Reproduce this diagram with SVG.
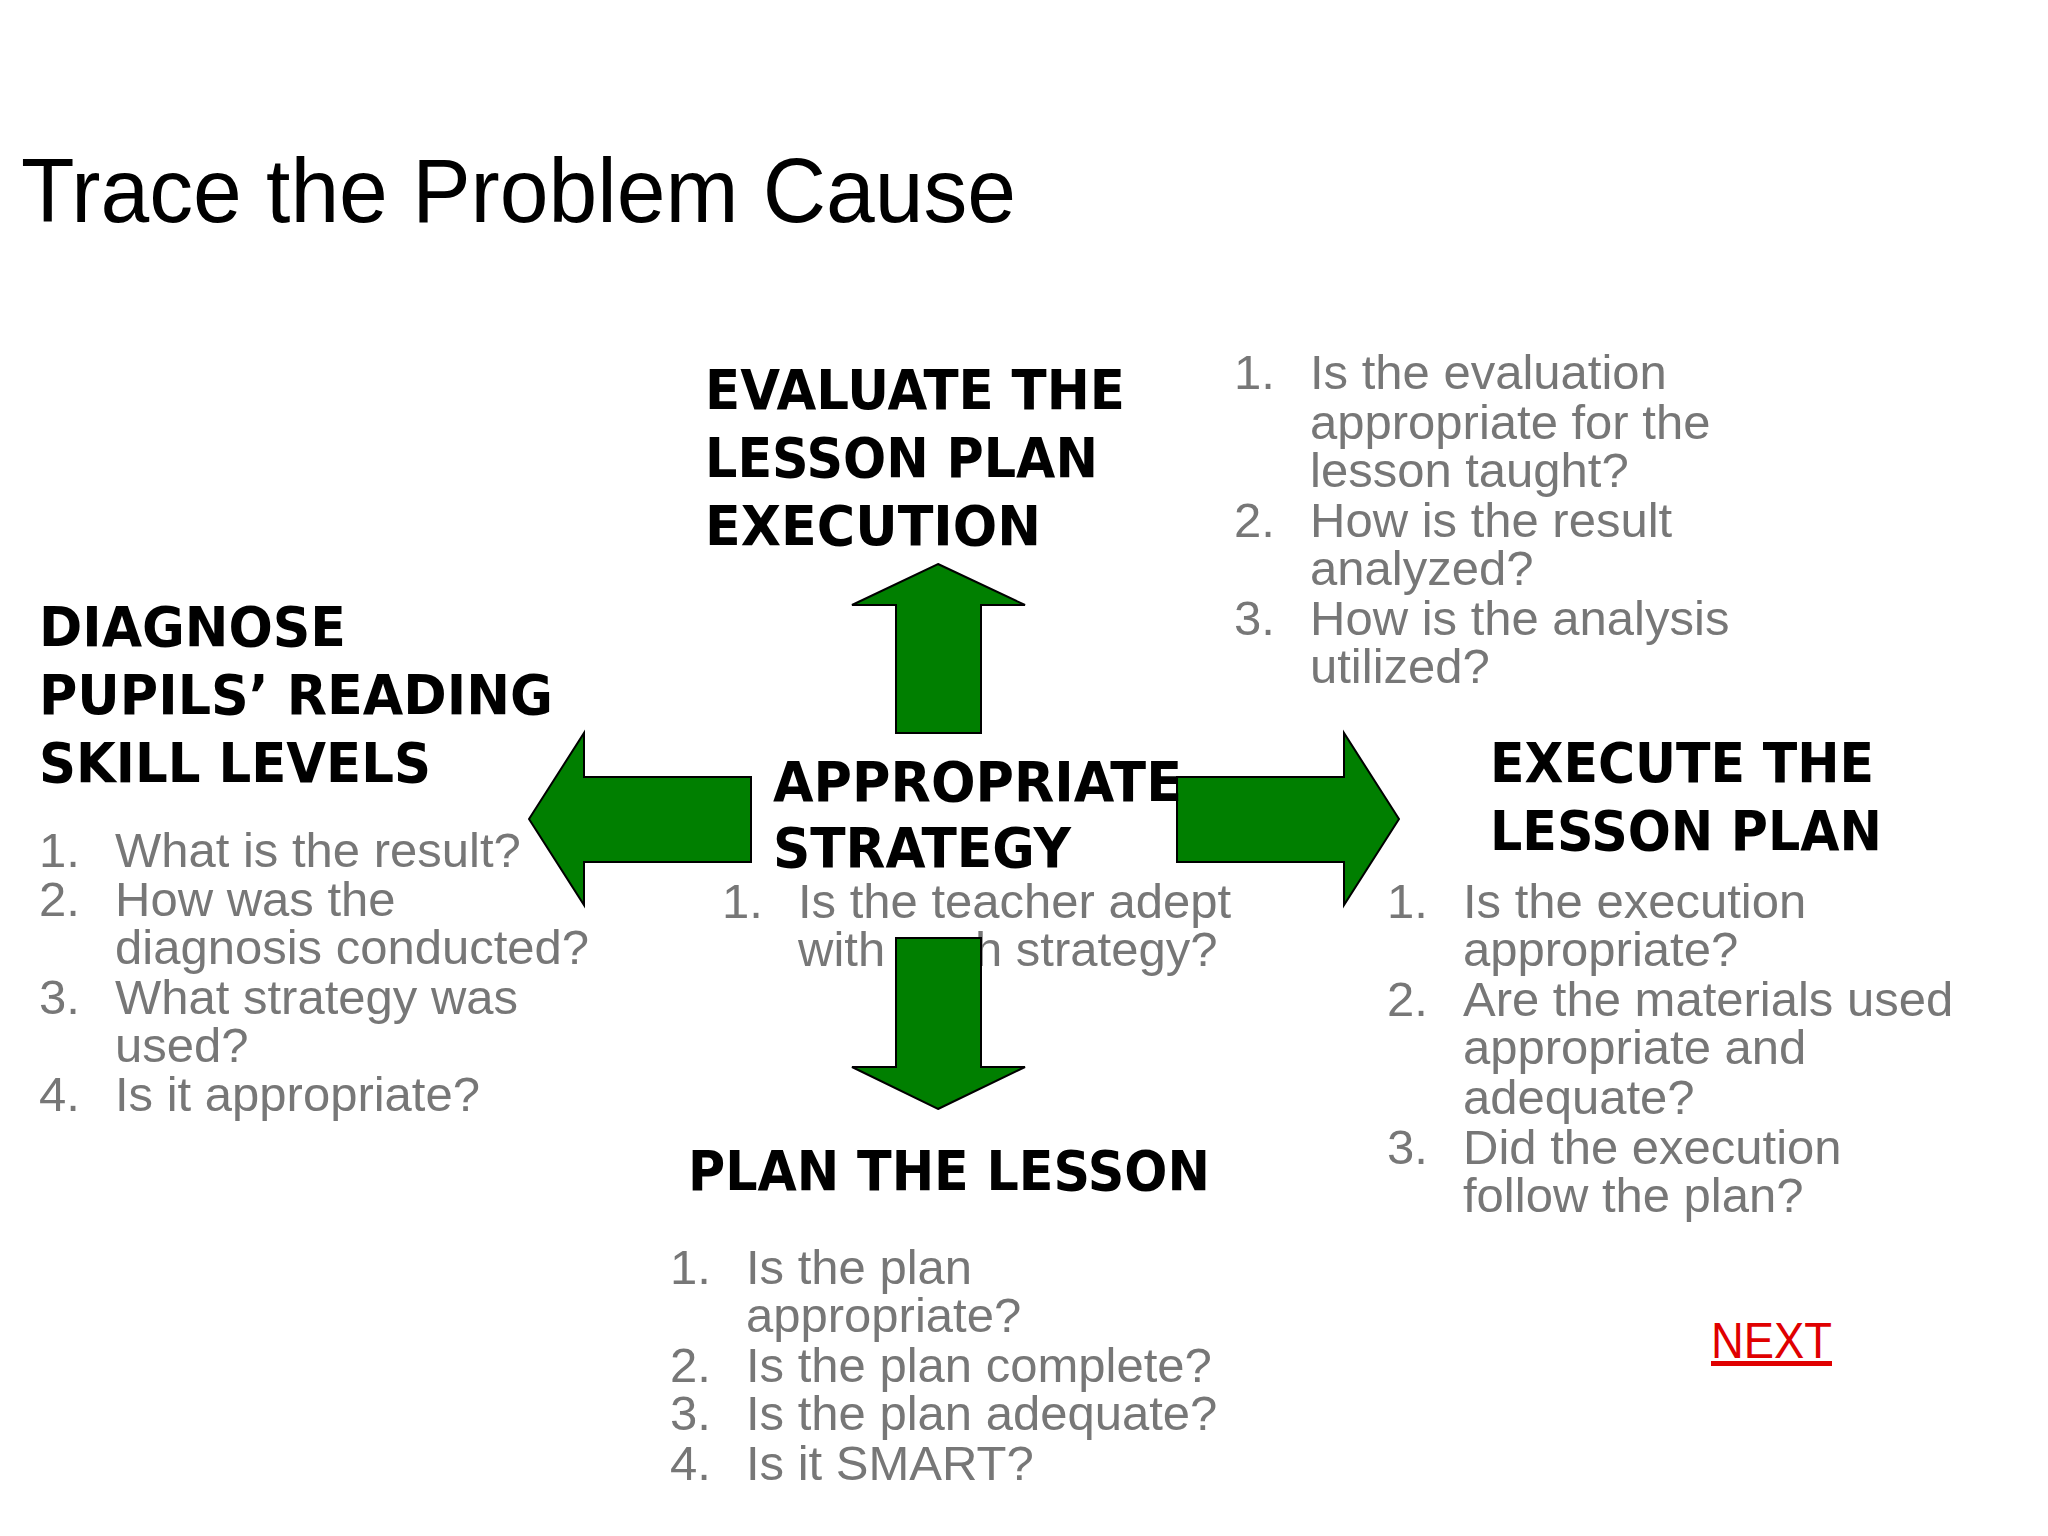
<svg xmlns="http://www.w3.org/2000/svg" width="2048" height="1536" viewBox="0 0 2048 1536">
<style>
.t{font-family:"Liberation Sans",Arial,sans-serif;font-size:90px;fill:#000}
.h{font-family:"DejaVu Sans","Liberation Sans",sans-serif;font-weight:bold;font-size:56px;fill:#000}
.g{font-family:"Liberation Sans",Arial,sans-serif;font-size:49px;fill:#777}
.a{fill:#007f00;stroke:#000;stroke-width:2}
</style>
<rect width="2048" height="1536" fill="#fff"/>
<text class="t" x="21" y="222" textLength="995" lengthAdjust="spacingAndGlyphs">Trace the Problem Cause</text>
<g id="strategy-list" class="g">
<text x="722" y="918">1.</text><text x="798" y="918">Is the teacher adept</text>
<text x="798" y="966">with such strategy?</text>
</g>
<g id="connectors">
<polygon class="a" points="938,564 1025,605 981,605 981,733 896,733 896,605 852,605"/>
<polygon class="a" points="529,819 584,733 584,777 751,777 751,862 584,862 584,905"/>
<polygon class="a" points="1399,819 1344,733 1344,777 1177,777 1177,862 1344,862 1344,905"/>
<polygon class="a" points="938,1109 1025,1067 981,1067 981,938 896,938 896,1067 852,1067"/>
</g>
<g id="strategy">
<text class="h" x="773" y="801" textLength="409" lengthAdjust="spacingAndGlyphs">APPROPRIATE</text>
<text class="h" x="773" y="867" textLength="298" lengthAdjust="spacingAndGlyphs">STRATEGY</text>
</g>
<g id="evaluate">
<text class="h" x="705" y="409" textLength="420" lengthAdjust="spacingAndGlyphs">EVALUATE THE</text>
<text class="h" x="705" y="477" textLength="393" lengthAdjust="spacingAndGlyphs">LESSON PLAN</text>
<text class="h" x="705" y="545" textLength="336" lengthAdjust="spacingAndGlyphs">EXECUTION</text>
<g class="g">
<text x="1234" y="389">1.</text><text x="1310" y="389">Is the evaluation</text>
<text x="1310" y="439">appropriate for the</text>
<text x="1310" y="487">lesson taught?</text>
<text x="1234" y="537">2.</text><text x="1310" y="537">How is the result</text>
<text x="1310" y="585">analyzed?</text>
<text x="1234" y="635">3.</text><text x="1310" y="635">How is the analysis</text>
<text x="1310" y="683">utilized?</text>
</g>
</g>
<g id="diagnose">
<text class="h" x="39" y="646" textLength="307" lengthAdjust="spacingAndGlyphs">DIAGNOSE</text>
<text class="h" x="39" y="714" textLength="514" lengthAdjust="spacingAndGlyphs">PUPILS’ READING</text>
<text class="h" x="39" y="782" textLength="392" lengthAdjust="spacingAndGlyphs">SKILL LEVELS</text>
<g class="g">
<text x="39" y="867">1.</text><text x="115" y="867">What is the result?</text>
<text x="39" y="916">2.</text><text x="115" y="916">How was the</text>
<text x="115" y="964">diagnosis conducted?</text>
<text x="39" y="1014">3.</text><text x="115" y="1014">What strategy was</text>
<text x="115" y="1062">used?</text>
<text x="39" y="1111">4.</text><text x="115" y="1111">Is it appropriate?</text>
</g>
</g>
<g id="execute">
<text class="h" x="1490" y="782" textLength="384" lengthAdjust="spacingAndGlyphs">EXECUTE THE</text>
<text class="h" x="1490" y="850" textLength="392" lengthAdjust="spacingAndGlyphs">LESSON PLAN</text>
<g class="g">
<text x="1387" y="918">1.</text><text x="1463" y="918">Is the execution</text>
<text x="1463" y="966">appropriate?</text>
<text x="1387" y="1016">2.</text><text x="1463" y="1016">Are the materials used</text>
<text x="1463" y="1064">appropriate and</text>
<text x="1463" y="1114">adequate?</text>
<text x="1387" y="1164">3.</text><text x="1463" y="1164">Did the execution</text>
<text x="1463" y="1212">follow the plan?</text>
</g>
</g>
<g id="plan">
<text class="h" x="688" y="1190" textLength="522" lengthAdjust="spacingAndGlyphs">PLAN THE LESSON</text>
<g class="g">
<text x="670" y="1284">1.</text><text x="746" y="1284">Is the plan</text>
<text x="746" y="1332">appropriate?</text>
<text x="670" y="1382">2.</text><text x="746" y="1382">Is the plan complete?</text>
<text x="670" y="1430">3.</text><text x="746" y="1430">Is the plan adequate?</text>
<text x="670" y="1480">4.</text><text x="746" y="1480">Is it SMART?</text>
</g>
</g>
<g id="next">
<text x="1711" y="1358" textLength="121" lengthAdjust="spacingAndGlyphs" style="font-family:'Liberation Sans',Arial,sans-serif;font-size:50px;fill:#e00000;text-decoration:underline">NEXT</text>
</g>
</svg>
